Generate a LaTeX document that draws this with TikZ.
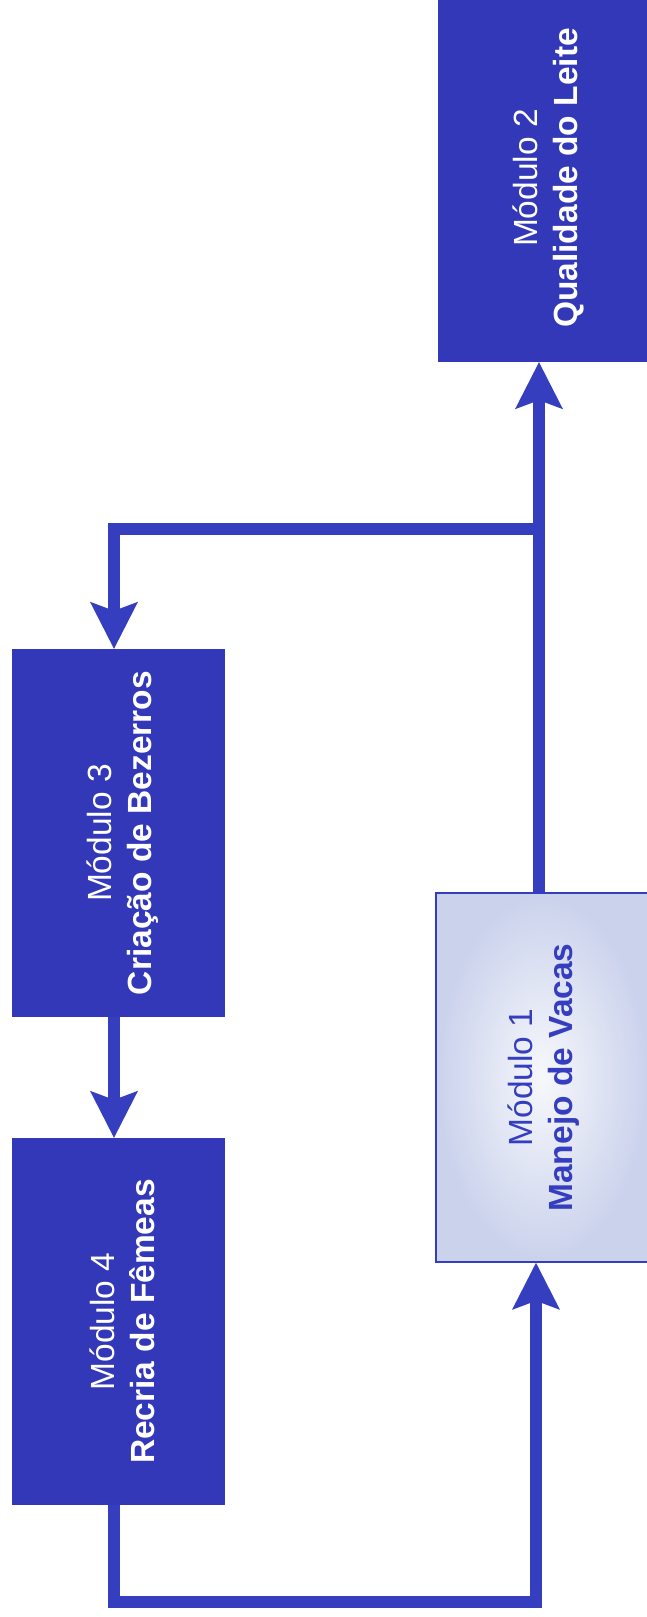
\documentclass[tikz,border=0pt]{standalone}
\usepackage{fontspec}
\setmainfont{Liberation Sans}
\usetikzlibrary{arrows.meta,calc}
\definecolor{boxblue}{RGB}{50,56,184}
\definecolor{linkblue}{RGB}{52,62,190}
\definecolor{paleout}{RGB}{202,210,236}
\definecolor{palein}{RGB}{247,248,252}
\tikzset{
  darkbox/.style={rectangle, fill=boxblue, draw=none, inner sep=0pt,
    minimum width=213pt},
  palebox/.style={rectangle, draw=linkblue, line width=1.6pt, inner sep=0pt,
    inner color=palein, outer color=paleout, minimum width=213pt},
  lbl/.style={rotate=90, align=center, inner sep=0pt,
    font=\fontsize{33.5}{40}\selectfont},
  conn/.style={draw=linkblue, line width=12pt, line join=miter, line cap=butt},
  arr/.style={conn, -{Stealth[length=47pt, width=48pt, inset=9pt, line width=0pt]}}
}
\begin{document}
\begin{tikzpicture}[x=1pt,y=-1pt]
\useasboundingbox (0,0) rectangle (647,1617);
\node[darkbox, minimum height=368pt] (m2) at (544.5,178) {};
\node[darkbox, minimum height=368pt] (m3) at (118.5,833) {};
\node[darkbox, minimum height=367pt] (m4) at (118.5,1321.5) {};
\node[palebox, minimum height=369pt] (m1) at (542.5,1077.5) {};
\node[lbl, text=white] (t2) at ($(m2.center)+(4,0)$) {Módulo 2\\\textbf{Qualidade do Leite}};
\node[lbl, text=white] (t3) at ($(m3.center)+(4,0)$) {Módulo 3\\\textbf{Criação de Bezerros}};
\node[lbl, text=white] (t4) at ($(m4.center)+(4,0)$) {Módulo 4\\\textbf{Recria de Fêmeas}};
\node[lbl, text=linkblue] (t1) at ($(m1.center)+(1,0)$) {Módulo 1\\\textbf{Manejo de Vacas}};
\coordinate (j) at (539,529);
\coordinate (bl) at (114,1602);
\coordinate (br) at (536,1602);
\draw[arr] (m1.north -| j) -- (m2.south -| j);
\draw[arr] (j) -| (m3.north -| bl);
\draw[arr] (m3.south -| bl) -- (m4.north -| bl);
\draw[arr] (m4.south -| bl) -- (bl) -- (br) -- (m1.south -| br);
\end{tikzpicture}
\end{document}
